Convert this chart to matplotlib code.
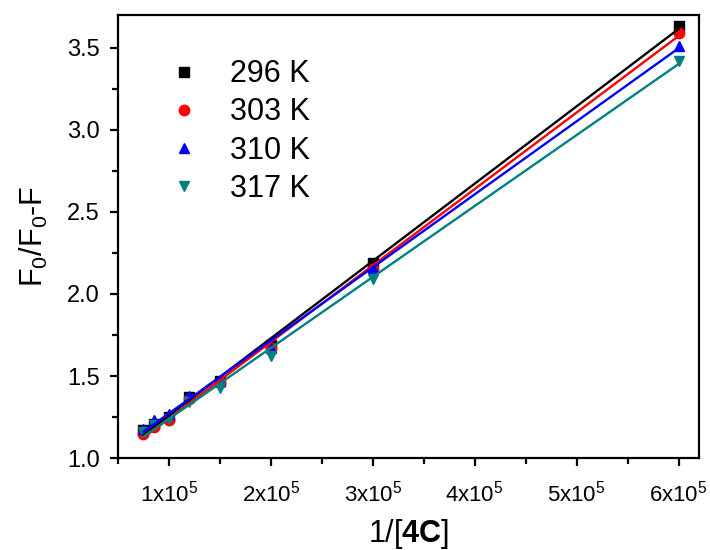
import matplotlib
matplotlib.use("Agg")
import matplotlib.pyplot as plt
import numpy as np
from matplotlib.ticker import FuncFormatter, MultipleLocator

plt.rcParams.update({
    "font.family": ["Liberation Sans", "DejaVu Sans"],
    "mathtext.fontset": "custom",
    "mathtext.rm": "Liberation Sans",
    "mathtext.it": "Liberation Sans:italic",
    "mathtext.bf": "Liberation Sans:bold",
    "axes.linewidth": 1.6,
})

# 1/[4C] (M^-1)
inv_conc = np.array([0.75e5, 0.857e5, 1.0e5, 1.2e5, 1.5e5, 2.0e5, 3.0e5, 6.0e5])

# F0/(F0-F) at each temperature
f_296 = [1.17, 1.21, 1.25, 1.37, 1.47, 1.69, 2.19, 3.63]
f_303 = [1.15, 1.19, 1.23, 1.36, 1.46, 1.67, 2.15, 3.59]
f_310 = [1.18, 1.23, 1.27, 1.38, 1.47, 1.67, 2.16, 3.51]
f_317 = [1.16, 1.20, 1.24, 1.34, 1.43, 1.62, 2.09, 3.42]

temps = ["296 K", "303 K", "310 K", "317 K"]
series = [f_296, f_303, f_310, f_317]
colors = ["#000000", "#ff0000", "#0000ff", "#008080"]
markers = ["s", "o", "^", "v"]

fig = plt.figure(figsize=(7.1, 5.5), dpi=100)
ax = fig.add_axes([0.166, 0.167, 0.8185, 0.806])

for lab, ys, c, m in zip(temps, series, colors, markers):
    ax.plot(inv_conc, ys, linestyle="none", marker=m, color=c,
            markersize=7.5, label=lab)

# Benesi-Hildebrand linear fits
for ys, c in zip(series, colors):
    k, b = np.polyfit(inv_conc, ys, 1)
    xx = np.array([inv_conc.min(), inv_conc.max()])
    ax.plot(xx, k * xx + b, color=c, linewidth=1.7)

ax.set_xlim(0.5e5, 6.2e5)
ax.set_ylim(1.0, 3.7)
ax.xaxis.set_major_locator(MultipleLocator(1e5))
ax.xaxis.set_minor_locator(MultipleLocator(0.5e5))
ax.yaxis.set_major_locator(MultipleLocator(0.5))
ax.yaxis.set_minor_locator(MultipleLocator(0.25))
ax.xaxis.set_major_formatter(FuncFormatter(lambda v, _: r"%dx10$^{5}$" % round(v / 1e5)))
ax.yaxis.set_major_formatter(FuncFormatter(lambda v, _: f"{v:.1f}"))
ax.tick_params(which="major", direction="out", length=6, width=1.6)
ax.tick_params(which="minor", direction="out", length=4, width=1.6)
ax.tick_params(axis="x", labelsize=16, pad=10)
ax.tick_params(axis="y", labelsize=17, pad=7)

ax.set_xlabel(r"1/[$\mathbf{4C}$]", fontsize=22, labelpad=8)
ax.set_ylabel(r"F$_0$/F$_0$-F", fontsize=22, labelpad=12)

ax.legend(loc="upper left", bbox_to_anchor=(0.04, 0.962), frameon=False,
          fontsize=22, handlelength=1.0, handletextpad=1.0,
          labelspacing=0.27, markerscale=1.0)

fig.savefig("out.png")
